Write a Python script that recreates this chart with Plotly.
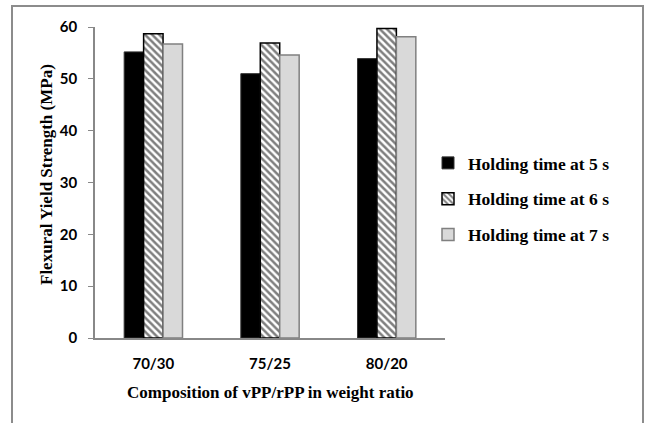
import plotly.graph_objects as go

categories = ["70/30", "75/25", "80/20"]
series_names = ["Holding time at 5 s", "Holding time at 6 s", "Holding time at 7 s"]
hold_5s = [55.2, 51.0, 53.9]
hold_6s = [58.7, 56.9, 59.7]
hold_7s = [56.7, 54.6, 58.1]
y_ticks = [0, 10, 20, 30, 40, 50, 60]

W, H = 646, 423
L, R, T, B = 95, 445, 27, 338

fig = go.Figure()
fig.add_trace(go.Bar(x=categories, y=hold_5s, name=series_names[0], legendgroup="a",
                     marker=dict(color="black", line=dict(color="#333333", width=1))))
fig.add_trace(go.Bar(x=categories, y=hold_6s, name=series_names[1], legendgroup="b",
                     marker=dict(color="white", line=dict(color="black", width=1.5),
                                 pattern=dict(shape="\\", fgcolor="black", bgcolor="white",
                                              size=5, solidity=0.5))))
fig.add_trace(go.Bar(x=categories, y=hold_7s, name=series_names[2], legendgroup="c",
                     marker=dict(color="#d9d9d9", line=dict(color="#808080", width=1.5))))

def px_x(p):
    return (p - L) / (R - L)

def px_y(p):
    return (B - p) / (B - T)

fig.update_layout(
    width=W, height=H,
    margin=dict(l=L, r=W - R, t=T, b=H - B, pad=0),
    paper_bgcolor="white", plot_bgcolor="white",
    barmode="group", bargap=0.5, bargroupgap=0,
    showlegend=True,
    legend=dict(x=px_x(428), y=px_y(199), xanchor="left", yanchor="middle",
                font=dict(family="Liberation Serif", size=17.5, color="black", weight="bold"),
                tracegroupgap=10, itemwidth=30, bgcolor="rgba(0,0,0,0)"),
    xaxis=dict(showline=True, linecolor="#888888", linewidth=1.5, ticks="",
               tickfont=dict(family="Lato", size=15, color="black", weight="bold"),
               ticklabelstandoff=11, showgrid=False),
    yaxis=dict(range=[0, 60], tickvals=y_ticks, showline=True, linecolor="#888888",
               linewidth=1.5, ticks="outside", ticklen=5, tickcolor="#888888",
               tickfont=dict(family="Lato", size=15, color="black", weight="bold"),
               ticklabelstandoff=8, showgrid=False, zeroline=False),
    shapes=[dict(type="rect", xref="paper", yref="paper",
                 x0=px_x(12), x1=px_x(643), y0=px_y(440), y1=px_y(6),
                 line=dict(color="#8c8c8c", width=2), layer="below")],
    annotations=[
        dict(text="<b>Flexural Yield Strength (MPa)</b>", xref="paper", yref="paper",
             x=px_x(46), y=px_y(175), textangle=-90, showarrow=False,
             font=dict(family="Liberation Serif", size=17, color="black"),
             xanchor="center", yanchor="middle"),
        dict(text="<b>Composition of vPP/rPP in weight ratio</b>", xref="paper", yref="paper",
             x=px_x(270), y=px_y(392), showarrow=False,
             font=dict(family="Liberation Serif", size=17, color="black"),
             xanchor="center", yanchor="middle"),
    ],
)

fig.write_html("out.html", config={"displayModeBar": False},
               post_script="document.body.style.margin='0';")
